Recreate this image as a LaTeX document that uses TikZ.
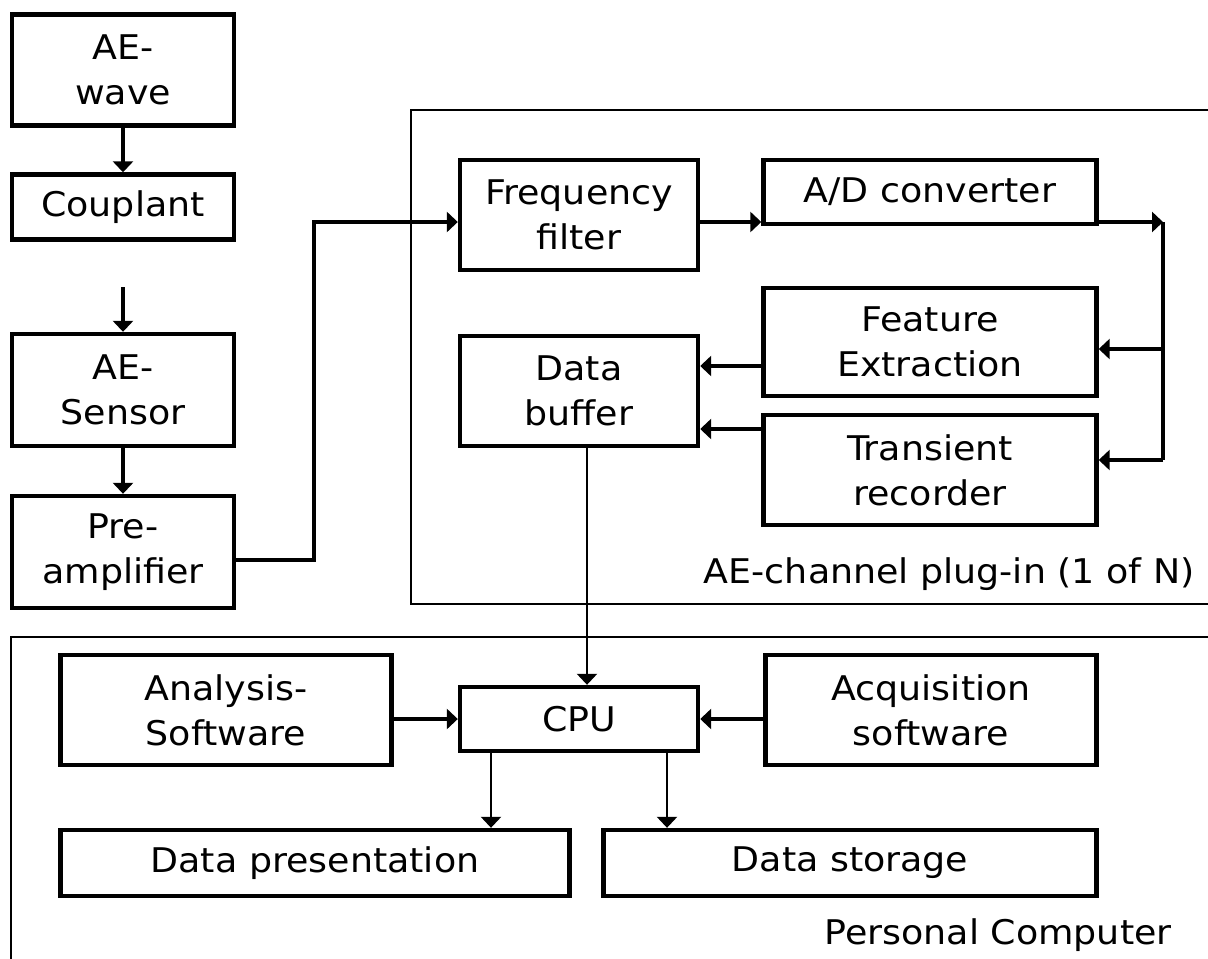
\documentclass[tikz,border=0pt]{standalone}
\usepackage{fontspec}
\setmainfont{DejaVu Sans}[FakeStretch=1.07]
\usetikzlibrary{arrows.meta}

\begin{document}
\begin{tikzpicture}[
  x=0.5pt, y=-0.5pt, % one unit = one pixel of the sketch
  font=\fontsize{17}{22.5}\selectfont,
  block/.style={draw, line width=2.2pt, align=center, inner sep=0pt},
  arrow/.style={line width=1.8pt, -{Triangle[length=5.5pt,width=10pt]}},
  thin arrow/.style={line width=1.2pt, -{Triangle[length=5.5pt,width=10pt]}},
  frame/.style={line width=1.2pt}
  ]
\useasboundingbox (0,0) rectangle (1208,958);
% the two housings
\draw[frame] (1210,110) -- (411,110) -- (411,604) -- (1210,604);
\draw[frame] (1210,637) -- (11,637) -- (11,960);
\node[anchor=east, inner sep=0pt] (pluglabel) at (1195,574) {AE-channel plug-in (1 of N)};
\node[anchor=east, inner sep=0pt] (pclabel) at (1172,935) {Personal Computer};

% sensor chain
\node[block, minimum width=111pt, minimum height=55.5pt] (wave) at (123,70) {AE-\\wave};
\node[block, minimum width=111pt, minimum height=32.5pt] (couplant) at (123,207) {Couplant};
\node[block, minimum width=111pt, minimum height=56pt] (sensor) at (123,390) {AE-\\Sensor};
\node[block, minimum width=111pt, minimum height=56pt] (pre) at (123,552) {Pre-\\amplifier};

% plug-in
\node[block, minimum width=119pt, minimum height=55pt] (filter) at (579,215) {Frequency\\filter};
\node[block, minimum width=166.5pt, minimum height=32pt] (ad) at (930,192) {A/D converter};
\node[block, minimum width=166.5pt, minimum height=54pt] (feature) at (930,342) {Feature\\Extraction};
\node[block, minimum width=166.5pt, minimum height=55pt] (transient) at (930,470) {Transient\\recorder};
\node[block, minimum width=119pt, minimum height=55pt] (buffer) at (579,391) {Data\\buffer};

% PC
\node[block, minimum width=119pt, minimum height=32pt] (cpu) at (579,719) {CPU};
\node[block, minimum width=165.5pt, minimum height=55pt] (analysis) at (226,710) {Analysis-\\Software};
\node[block, minimum width=165.5pt, minimum height=55pt] (acq) at (931,710) {Acquisition\\software};
\node[block, minimum width=254.5pt, minimum height=33pt] (pres) at (315,863) {Data presentation};
\node[block, minimum width=246.5pt, minimum height=33pt] (storage) at (850,863) {Data storage};

\coordinate (gap) at (123,287);
\coordinate (bus) at (1163,222);
\coordinate (bus end) at (1163,460);

\draw[arrow] (wave) -- (couplant);
\draw[arrow] (gap) -- (sensor);
\draw[arrow] (sensor) -- (pre);
\draw[arrow] (pre.east |- 0,560) -- (314,560) |- (filter.west |- bus);
\draw[arrow] (filter.east |- bus) -- (ad.west |- bus);
\draw[arrow] (ad.east |- bus) -- (bus);
\draw[line width=1.8pt] (bus) -- (bus end);
\draw[arrow] (bus |- 0,349) -- (feature.east |- 0,349);
\draw[arrow] (bus end) -- (transient.east |- bus end);
\draw[arrow] (feature.west |- 0,366) -- (buffer.east |- 0,366);
\draw[arrow] (transient.west |- 0,429) -- (buffer.east |- 0,429);
\draw[thin arrow] (buffer.south -| 587,0) -- (cpu.north -| 587,0);
\draw[arrow] (analysis.east |- cpu) -- (cpu.west);
\draw[arrow] (acq.west |- cpu) -- (cpu.east);
\draw[thin arrow] (cpu.south -| 491,0) -- (pres.north -| 491,0);
\draw[thin arrow] (cpu.south -| 667,0) -- (storage.north -| 667,0);
\end{tikzpicture}
\end{document}
